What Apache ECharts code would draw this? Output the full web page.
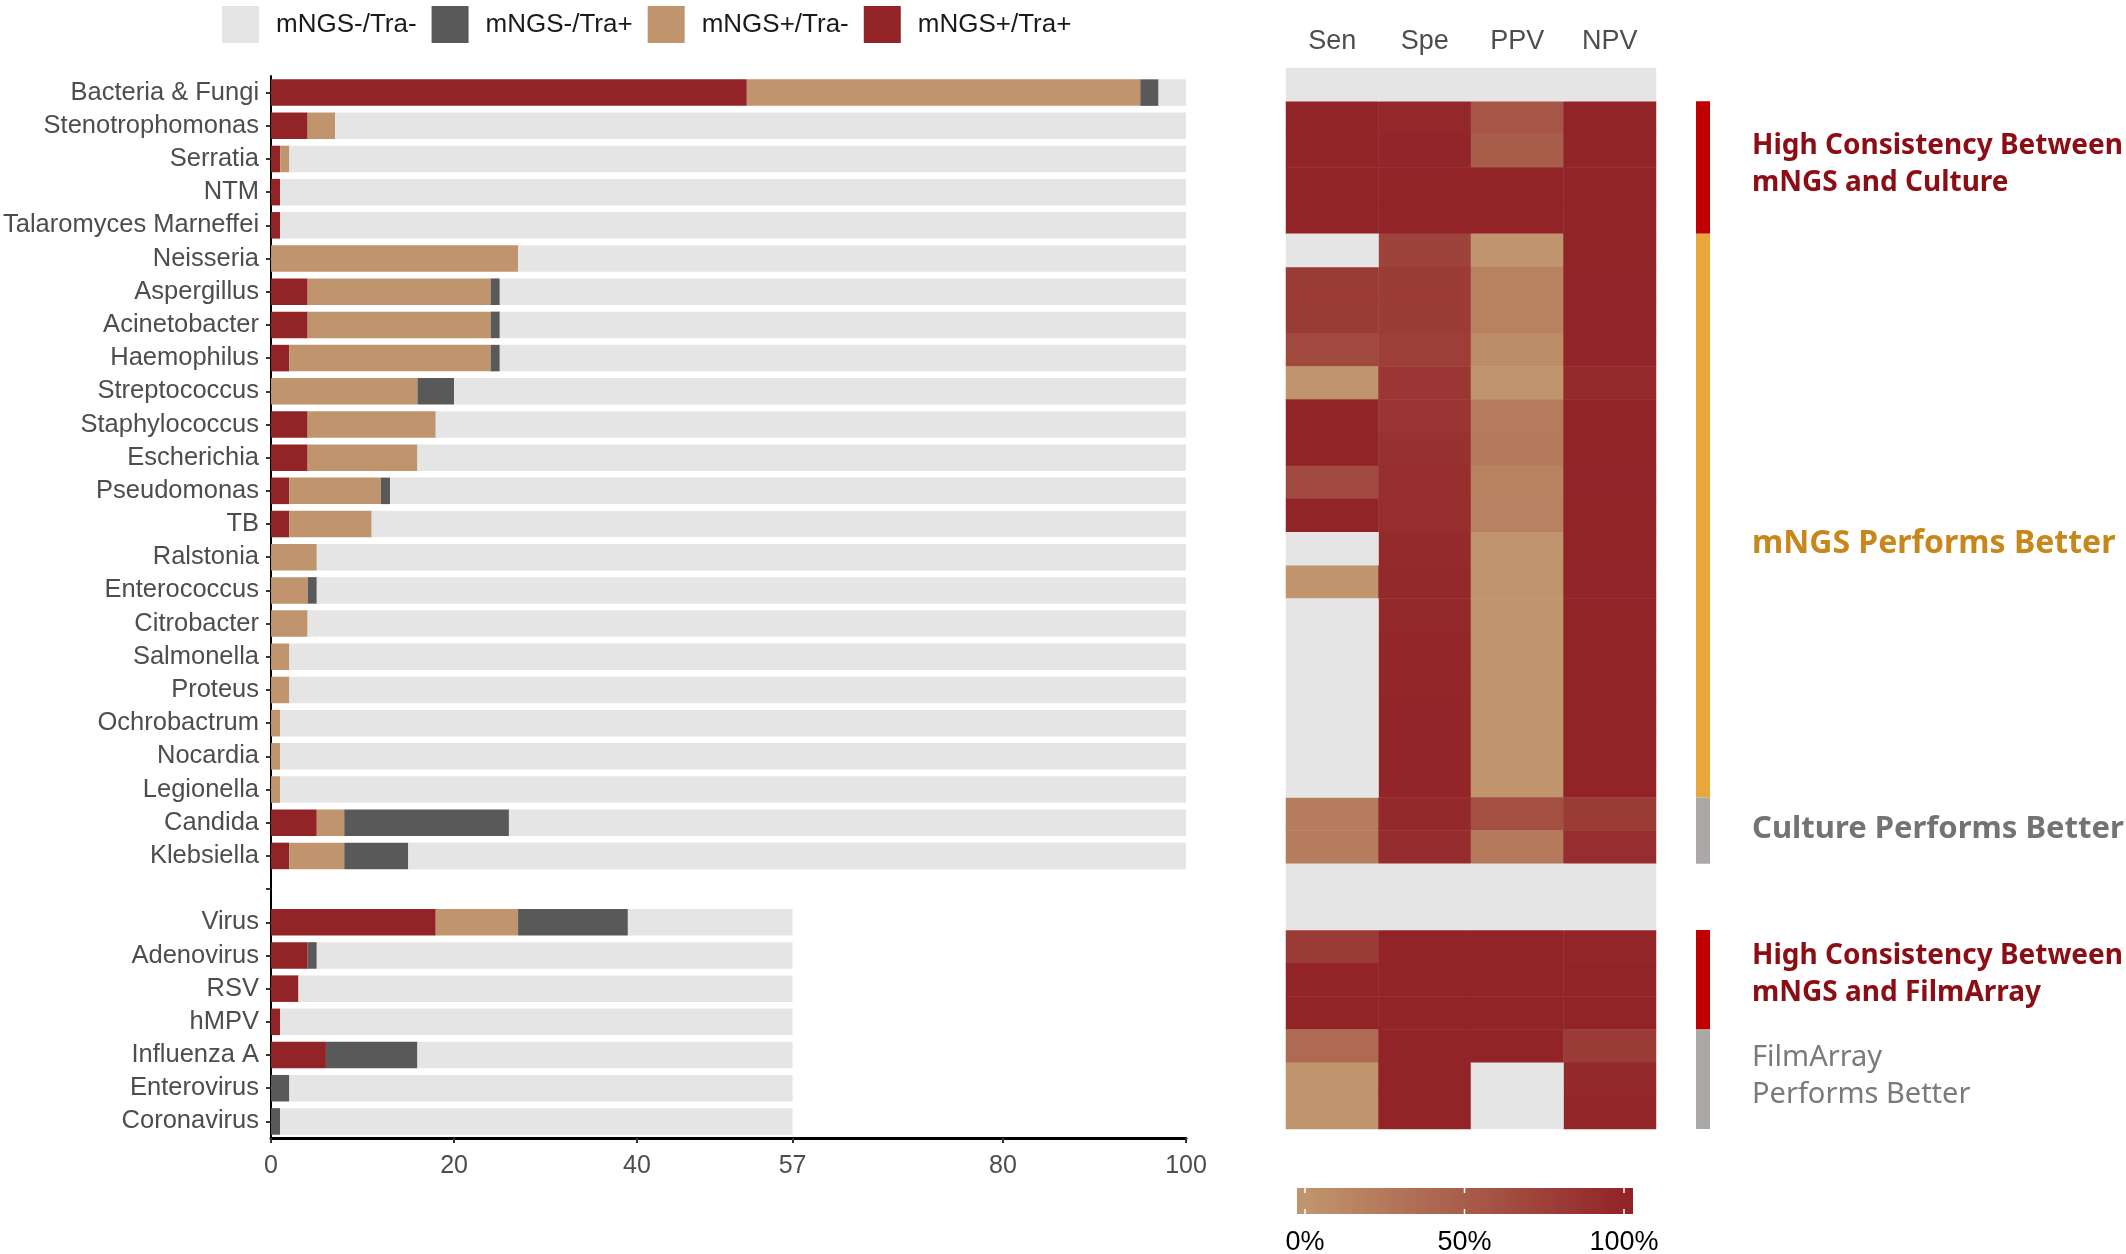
<!DOCTYPE html>
<html>
<head>
<meta charset="utf-8">
<title>mNGS vs culture / FilmArray</title>
<script src="https://cdn.jsdelivr.net/npm/echarts@6/dist/echarts.min.js"></script>
<style>
  html, body { margin: 0; padding: 0; background: #fff; }
  #main { width: 2126px; height: 1254px; }
</style>
</head>
<body>
<div id="main"></div>
<script>
// rows top to bottom, '' is the spacer between the culture block and the FilmArray block
var pathogens = ['Bacteria & Fungi', 'Stenotrophomonas', 'Serratia', 'NTM', 'Talaromyces Marneffei',
  'Neisseria', 'Aspergillus', 'Acinetobacter', 'Haemophilus', 'Streptococcus', 'Staphylococcus',
  'Escherichia', 'Pseudomonas', 'TB', 'Ralstonia', 'Enterococcus', 'Citrobacter', 'Salmonella',
  'Proteus', 'Ochrobactrum', 'Nocardia', 'Legionella', 'Candida', 'Klebsiella', '',
  'Virus', 'Adenovirus', 'RSV', 'hMPV', 'Influenza A', 'Enterovirus', 'Coronavirus'];

// case counts per row
var posPos = [52, 4, 1, 1, 1, 0, 4, 4, 2, 0, 4, 4, 2, 2, 0, 0, 0, 0, 0, 0, 0, 0, 5, 2, null, 18, 4, 3, 1, 6, 0, 0];   // mNGS+/Tra+
var posNeg = [43, 3, 1, 0, 0, 27, 20, 20, 22, 16, 14, 12, 10, 9, 5, 4, 4, 2, 2, 1, 1, 1, 3, 6, null, 9, 0, 0, 0, 0, 0, 0]; // mNGS+/Tra-
var negPos = [2, 0, 0, 0, 0, 0, 1, 1, 1, 4, 0, 0, 1, 0, 0, 1, 0, 0, 0, 0, 0, 0, 18, 7, null, 12, 1, 0, 0, 10, 2, 1];  // mNGS-/Tra+
var negNeg = [3, 93, 98, 99, 99, 73, 75, 75, 75, 80, 82, 84, 87, 89, 95, 95, 96, 98, 98, 99, 99, 99, 74, 85, null, 18, 52, 54, 56, 41, 55, 56]; // mNGS-/Tra-
var xTicks = [0, 20, 40, 57, 80, 100];

// heatmap, percent; null = not available (grey)
var metrics = ['Sen', 'Spe', 'PPV', 'NPV'];
var sen = [null, 100, 100, 100, 100, null, 80, 80, 67, 0, 100, 100, 67, 100, null, 0, null, null, null, null, null, null, 22, 22, null, null, 80, 100, 100, 38, 0, 0];
var spe = [null, 97, 99, 100, 100, 73, 79, 79, 77, 83, 85, 88, 90, 91, 95, 96, 96, 98, 98, 99, 99, 99, 96, 93, null, null, 100, 100, 100, 100, 100, 100];
var ppv = [null, 57, 50, 100, 100, 0, 17, 17, 8, 0, 22, 25, 17, 18, 0, 0, 0, 0, 0, 0, 0, 0, 62, 25, null, null, 100, 100, 100, 100, null, null];
var npv = [null, 100, 100, 100, 100, 100, 99, 99, 99, 95, 100, 100, 99, 100, 100, 99, 100, 100, 100, 100, 100, 100, 80, 92, null, null, 98, 100, 100, 80, 96, 98];
var scaleTicks = [0, 50, 100];

// side annotations: first/last heatmap row of each block, row where the label sits
var blockFrom = [1, 5, 22, 26, 29];
var blockTo = [4, 21, 23, 28, 31];
var blockLabelAt = [2.4, 13.85, 22.45, 26.85, 29.9];
var blockLabels = ['High Consistency Between\nmNGS and Culture', 'mNGS Performs Better', 'Culture Performs Better',
  'High Consistency Between\nmNGS and FilmArray', 'FilmArray\nPerforms Better'];

var RED = '#922428', TAN = '#c0956d', DARK = '#595959', LIGHT = '#e5e5e5';
var blockBar = ['#c00000', '#e9a73c', '#aba8a8', '#c00000', '#aba8a8'];
var blockText = ['#8c0d14', '#c8871a', '#737373', '#8c0d14', '#7a7a7a'];
var blockFont = ['bold 28px', 'bold 32px', 'bold 31px', 'bold 28px', 'normal 29px'];

var chart = echarts.init(document.getElementById('main'));

var heatData = [], naData = [];
[sen, spe, ppv, npv].forEach(function (col, i) {
  col.forEach(function (v, r) {
    if (v === null) naData.push([i, r, 1]);
    else heatData.push([i, r, v]);
  });
});

function barSeries(name, data, color) {
  return {
    name: name, type: 'bar', stack: 'n', data: data,
    xAxisIndex: 0, yAxisIndex: 0,
    barCategoryGap: '20%',
    itemStyle: { color: color },
    emphasis: { disabled: true }
  };
}

chart.setOption({
  animation: false,
  textStyle: { fontFamily: 'Liberation Sans' },
  legend: {
    data: ['mNGS-/Tra-', 'mNGS-/Tra+', 'mNGS+/Tra-', 'mNGS+/Tra+'],
    left: 217, top: 1,
    icon: 'rect', itemWidth: 37, itemHeight: 37, itemGap: 15,
    selectedMode: false,
    textStyle: { fontSize: 26, color: '#1a1a1a', padding: [0, 0, 0, 12] }
  },
  grid: [
    { left: 271, top: 76, width: 915, height: 1062 },
    { left: 1286, top: 68, width: 370, height: 1061 }
  ],
  xAxis: [{
    type: 'value', gridIndex: 0, min: 0, max: 100,
    splitLine: { show: false },
    axisLine: { show: true, lineStyle: { color: '#000', width: 3 } },
    axisTick: { show: true, customValues: xTicks, length: 5, lineStyle: { color: '#333', width: 2 } },
    axisLabel: { customValues: xTicks, fontSize: 25, color: '#4d4d4d', margin: 16 }
  }, {
    type: 'category', gridIndex: 1, data: metrics, position: 'top',
    axisLine: { show: false }, axisTick: { show: false },
    axisLabel: { fontSize: 27, color: '#4d4d4d', margin: 13 }
  }],
  yAxis: [{
    type: 'category', gridIndex: 0, data: pathogens, inverse: true,
    axisLine: { show: true, lineStyle: { color: '#000', width: 2 } },
    axisTick: { show: true, alignWithLabel: true, length: 5, lineStyle: { color: '#333', width: 2 } },
    axisLabel: { fontSize: 25.5, color: '#4d4d4d', margin: 12, interval: 0 }
  }, {
    type: 'category', gridIndex: 1, data: pathogens, inverse: true, show: false
  }],
  visualMap: {
    type: 'continuous', show: false, seriesIndex: 4,
    min: 0, max: 100, dimension: 2,
    inRange: { color: [TAN, RED] }
  },
  series: [
    barSeries('mNGS+/Tra+', posPos, RED),
    barSeries('mNGS+/Tra-', posNeg, TAN),
    barSeries('mNGS-/Tra+', negPos, DARK),
    barSeries('mNGS-/Tra-', negNeg, LIGHT),
    {
      name: 'metric', type: 'heatmap', xAxisIndex: 1, yAxisIndex: 1,
      data: heatData, emphasis: { disabled: true }
    },
    {
      name: 'NA', type: 'heatmap', xAxisIndex: 1, yAxisIndex: 1,
      data: naData, itemStyle: { color: LIGHT }, emphasis: { disabled: true }
    }
  ]
});

// side annotation bars follow the heatmap rows
var rowY = function (r) { return chart.convertToPixel({ yAxisIndex: 1 }, r); };
var pitch = rowY(1) - rowY(0);
var g = [];
blockFrom.forEach(function (from, i) {
  var y0 = rowY(from) - pitch / 2, y1 = rowY(blockTo[i]) + pitch / 2;
  g.push({ type: 'rect', shape: { x: 1696, y: y0, width: 14, height: y1 - y0 }, style: { fill: blockBar[i] } });
  g.push({
    type: 'text', x: 1752, y: rowY(0) + blockLabelAt[i] * pitch,
    style: {
      text: blockLabels[i], fill: blockText[i], font: blockFont[i] + ' "Noto Sans"',
      lineHeight: 37, align: 'left', verticalAlign: 'middle'
    }
  });
});

// colour scale legend
var cbX0 = 1297, cbX1 = 1633, cbY = 1188, cbH = 26, v0 = 1305, v100 = 1624;
g.push({
  type: 'rect', shape: { x: cbX0, y: cbY, width: cbX1 - cbX0, height: cbH },
  style: {
    fill: new echarts.graphic.LinearGradient(0, 0, 1, 0, [
      { offset: (v0 - cbX0) / (cbX1 - cbX0), color: TAN },
      { offset: (v100 - cbX0) / (cbX1 - cbX0), color: RED }
    ])
  }
});
scaleTicks.forEach(function (t) {
  var x = v0 + (v100 - v0) * t / 100;
  g.push({ type: 'line', shape: { x1: x, y1: cbY, x2: x, y2: cbY + 5 }, style: { stroke: '#fff', lineWidth: 1.5 } });
  g.push({ type: 'line', shape: { x1: x, y1: cbY + cbH - 5, x2: x, y2: cbY + cbH }, style: { stroke: '#fff', lineWidth: 1.5 } });
  g.push({
    type: 'text', x: x, y: 1243,
    style: { text: t + '%', fill: '#000', font: '27px "Liberation Sans"', align: 'center', verticalAlign: 'middle' }
  });
});

chart.setOption({ graphic: g });
window.onresize = chart.resize;
</script>
</body>
</html>
